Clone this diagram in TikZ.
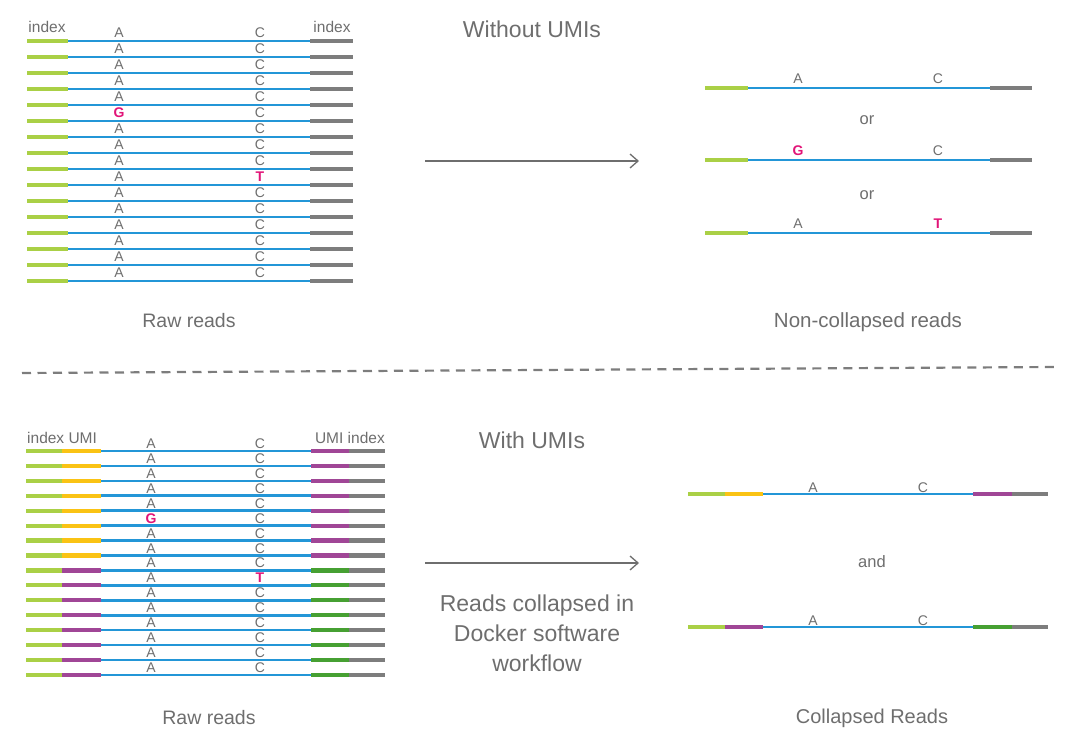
\documentclass[tikz,border=0pt]{standalone}
\usepackage{fontspec}
\setmainfont{Liberation Sans}
\usetikzlibrary{arrows.meta}

\definecolor{idxgreen}{RGB}{170,208,70}
\definecolor{idxgray}{RGB}{125,125,125}
\definecolor{readblue}{RGB}{35,150,215}
\definecolor{umiyellow}{RGB}{250,195,20}
\definecolor{umipurple}{RGB}{160,70,150}
\definecolor{umigreen}{RGB}{70,160,50}
\definecolor{snpred}{RGB}{225,20,120}
\definecolor{txtgray}{RGB}{110,110,110}

\tikzset{
  endseg/.style={line width=4.2pt},
  readline/.style={line width=2.6pt, readblue},
  basel/.style={anchor=base, inner sep=0pt, text=txtgray, font=\fontsize{14}{14}\selectfont},
  snp/.style={basel, text=snpred, font=\fontsize{14}{14}\selectfont\bfseries},
  tag/.style={anchor=base, inner sep=0pt, text=txtgray, font=\fontsize{15.5}{16}\selectfont},
  heading/.style={anchor=base, inner sep=0pt, text=txtgray, font=\fontsize{23}{26}\selectfont},
  caption/.style={anchor=base, inner sep=0pt, text=txtgray, font=\fontsize{19.5}{22}\selectfont},
  flow/.style={-{Straight Barb[length=8pt,width=14pt]}, line width=1.3pt, txtgray},
  divider/.style={line width=2.2pt, idxgray, dash pattern=on 9pt off 6.5pt}
}

\begin{document}
\begin{tikzpicture}[x=1pt,y=-1pt]
\useasboundingbox (0,0) rectangle (1080,738);

%WITHOUT UMIs
\node[tag](idxl) at (47,33) {index};
\node[tag](idxr) at (332,33) {index};
\node[heading](woumi) at (532,38) {Without UMIs};

\foreach \i in {1,...,16}{
  \pgfmathsetmacro\ry{41+(\i-1)*16}
  \draw[readline] (68,\ry) -- (310,\ry);
  \draw[endseg,idxgreen] (27,\ry) -- (68,\ry);
  \draw[endseg,idxgray] (310,\ry) -- (353,\ry);
  \ifnum\i=6 \node[snp](ra\i) at (119,\ry-3) {G};
  \else \node[basel](ra\i) at (119,\ry-3) {A}; \fi
  \ifnum\i=10 \node[snp](rc\i) at (260,\ry-3) {T};
  \else \node[basel](rc\i) at (260,\ry-3) {C}; \fi
}

\node[caption](raw1) at (189,327) {Raw reads};

\coordinate (f1s) at (425,161);
\coordinate (f1e) at (639,161);
\draw[flow] (f1s) -- (f1e);

\foreach \ry in {88,160,233}{
  \draw[readline] (748,\ry) -- (990,\ry);
  \draw[endseg,idxgreen] (705,\ry) -- (748,\ry);
  \draw[endseg,idxgray] (990,\ry) -- (1032,\ry);
}
\node[basel](na1) at (798,84) {A};
\node[basel](nc1) at (938,84) {C};
\node[snp](na2) at (798,156) {G};
\node[basel](nc2) at (938,156) {C};
\node[basel](na3) at (798,229) {A};
\node[snp](nc3) at (938,229) {T};
\node[tag,font=\fontsize{16.5}{17}\selectfont](or1) at (867,125) {or};
\node[tag,font=\fontsize{16.5}{17}\selectfont](or2) at (867,200) {or};

\node[caption,font=\fontsize{20.5}{22}\selectfont](ncol) at (868,328) {Non-collapsed reads};

%DIVIDER
\coordinate (d1) at (22,373);
\coordinate (d2) at (1055,367);
\draw[divider] (d1) -- (d2);

%WITH UMIs
\node[tag,anchor=base west](idxumi) at (27,443) {index UMI};
\node[tag,anchor=base east](umiidx) at (385,443) {UMI index};
\node[heading](wumi) at (532,448) {With UMIs};

\foreach \i in {1,...,16}{
  \pgfmathsetmacro\ry{451+(\i-1)*14.93}
  \ifnum\i<9 \def\lu{umiyellow}\def\ru{umipurple}
  \else \def\lu{umipurple}\def\ru{umigreen}\fi
  \draw[readline] (101,\ry) -- (311,\ry);
  \draw[endseg,idxgreen] (26,\ry) -- (62,\ry);
  \draw[endseg,\lu] (62,\ry) -- (101,\ry);
  \draw[endseg,\ru] (311,\ry) -- (349,\ry);
  \draw[endseg,idxgray] (349,\ry) -- (385,\ry);
  \ifnum\i=6 \node[snp](ua\i) at (151,\ry-2.5) {G};
  \else \node[basel](ua\i) at (151,\ry-2.5) {A}; \fi
  \ifnum\i=10 \node[snp](uc\i) at (260,\ry-2.5) {T};
  \else \node[basel](uc\i) at (260,\ry-2.5) {C}; \fi
}

\node[caption](raw2) at (209,724) {Raw reads};

\coordinate (f2s) at (425,563);
\coordinate (f2e) at (639,563);
\draw[flow] (f2s) -- (f2e);
\node[heading,font=\fontsize{23}{30}\selectfont,align=center](dock) at (537,671)
  {Reads collapsed in\\Docker software\\workflow};

\draw[readline] (763,494) -- (973,494);
\draw[endseg,idxgreen] (688,494) -- (725,494);
\draw[endseg,umiyellow] (725,494) -- (763,494);
\draw[endseg,umipurple] (973,494) -- (1012,494);
\draw[endseg,idxgray] (1012,494) -- (1048,494);
\node[basel](ca1) at (813,492) {A};
\node[basel](cc1) at (923,492) {C};

\node[tag,font=\fontsize{16.5}{17}\selectfont](and) at (872,567) {and};

\draw[readline] (763,627) -- (973,627);
\draw[endseg,idxgreen] (688,627) -- (725,627);
\draw[endseg,umipurple] (725,627) -- (763,627);
\draw[endseg,umigreen] (973,627) -- (1012,627);
\draw[endseg,idxgray] (1012,627) -- (1048,627);
\node[basel](ca2) at (813,625) {A};
\node[basel](cc2) at (923,625) {C};

\node[caption,font=\fontsize{20}{22}\selectfont](col) at (872,723) {Collapsed Reads};

\end{tikzpicture}
\end{document}
